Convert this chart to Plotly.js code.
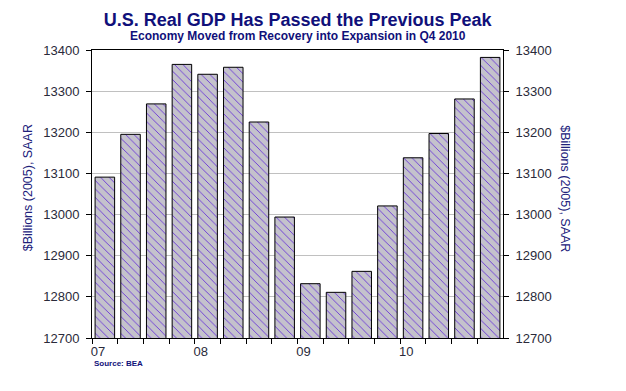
<!DOCTYPE html>
<html>
<head>
<meta charset="utf-8">
<script src="https://cdn.plot.ly/plotly-3.0.1.min.js"></script>
<style>html,body{margin:0;padding:0;background:#fff;}#chart{width:626px;height:391px;}</style>
</head>
<body>
<div id="chart"></div>
<script>
// Quarters 2007 Q1 .. 2010 Q4
var quarters = ["2007Q1","2007Q2","2007Q3","2007Q4","2008Q1","2008Q2","2008Q3","2008Q4",
                "2009Q1","2009Q2","2009Q3","2009Q4","2010Q1","2010Q2","2010Q3","2010Q4"];
// Real GDP, $Billions (2005), SAAR
var gdp = [13091, 13195, 13269, 13365, 13341, 13358, 13225, 12994,
           12832, 12811, 12862, 13021, 13138, 13197, 13281, 13382];
var yearLabels = ["07","08","09","10"];
var yTicks = [12700, 12800, 12900, 13000, 13100, 13200, 13300, 13400];
var yTickText = ["12700","12800","12900","13000","13100","13200","13300","13400"];

var xPos = quarters.map(function(q, i){ return i + 0.5; });
var tickVals = quarters.map(function(q, i){ return i; });
var tickText = quarters.map(function(q, i){ return (i % 4 === 0) ? yearLabels[i/4] : ""; });

var navy = "#10107a";
var tickFont = {family: "Liberation Sans, Arial, sans-serif", size: 13, color: "#2a2a3a"};

var traces = [
  {
    type: "bar", x: xPos, y: gdp, width: 0.76, xaxis: "x", yaxis: "y",
    marker: {
      color: "#c4c2cc",
      line: {color: "#000", width: 1},
      pattern: {shape: "\\", bgcolor: "#c4c2cc", fgcolor: "#5a20d8", size: 6, solidity: 0.13, fillmode: "replace"}
    },
    hoverinfo: "skip"
  },
  {
    type: "scatter", mode: "markers", x: xPos, y: gdp, xaxis: "x", yaxis: "y2",
    marker: {opacity: 0}, hoverinfo: "skip", showlegend: false
  }
];

var layout = {
  width: 626, height: 391,
  margin: {l: 92, r: 123, t: 50, b: 53},
  paper_bgcolor: "#fff", plot_bgcolor: "#fff",
  showlegend: false,
  bargap: 0.24,
  title: {
    text: "U.S. Real GDP Has Passed the Previous Peak",
    font: {family: "Liberation Sans, Arial, sans-serif", size: 18, color: navy, weight: "bold"},
    x: 0.4755, xref: "container", xanchor: "center",
    y: 1 - 20/391, yref: "container", yanchor: "middle"
  },
  xaxis: {
    range: [0, 16], tickmode: "array", tickvals: tickVals, ticktext: tickText,
    ticks: "outside", ticklen: 5, tickcolor: "#000", tickwidth: 1,
    showline: true, linecolor: "#000", linewidth: 1, mirror: true,
    showgrid: false, zeroline: false, ticklabelshift: 6, ticklabelstandoff: -4,
    tickfont: tickFont
  },
  yaxis: {
    range: [12700, 13400], tickmode: "array", tickvals: yTicks, ticktext: yTickText,
    ticks: "outside", ticklen: 5, tickcolor: "#000",
    showline: true, linecolor: "#000", linewidth: 1,
    showgrid: true, gridcolor: "#c0c0c0", gridwidth: 1, zeroline: false,
    ticklabelstandoff: 4, tickfont: tickFont
  },
  yaxis2: {
    range: [12700, 13400], tickmode: "array", tickvals: yTicks, ticktext: yTickText,
    overlaying: "y", side: "right",
    ticks: "outside", ticklen: 5, tickcolor: "#000",
    showline: true, linecolor: "#000", linewidth: 1,
    showgrid: false, zeroline: false,
    ticklabelstandoff: 4, tickfont: tickFont
  },
  annotations: [
    {
      text: "Economy Moved from Recovery into Expansion in Q4 2010",
      xref: "paper", yref: "paper", x: 0.5, y: 1 + 14/288, xanchor: "center", yanchor: "middle",
      showarrow: false,
      font: {family: "Liberation Sans, Arial, sans-serif", size: 12, color: navy, weight: "bold"}
    },
    {
      text: "$Billions (2005), SAAR",
      xref: "paper", yref: "paper", x: -64/411, y: 0.52, xanchor: "center", yanchor: "middle",
      textangle: -90, showarrow: false,
      font: {family: "Liberation Sans, Arial, sans-serif", size: 12.5, color: "#20207a"}
    },
    {
      text: "$Billions (2005), SAAR",
      xref: "paper", yref: "paper", x: 1 + 62/411, y: 0.52, xanchor: "center", yanchor: "middle",
      textangle: 90, showarrow: false,
      font: {family: "Liberation Sans, Arial, sans-serif", size: 12.5, color: "#20207a"}
    },
    {
      text: "Source: BEA",
      xref: "paper", yref: "paper", x: 0, y: -25/288, xanchor: "left", yanchor: "middle",
      showarrow: false,
      font: {family: "Liberation Sans, Arial, sans-serif", size: 8, color: navy, weight: "bold"}
    }
  ]
};

Plotly.newPlot("chart", traces, layout, {displayModeBar: false, staticPlot: true});
</script>
</body>
</html>
